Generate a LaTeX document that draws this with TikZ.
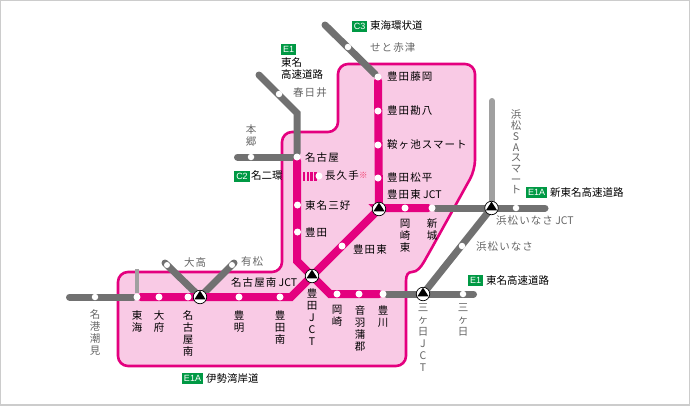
\documentclass[tikz,border=0pt]{standalone}
\usepackage{fontspec}
\usetikzlibrary{calc,backgrounds}
\setmainfont[LetterSpace=10]{Noto Sans CJK JP}
\newfontfamily\plainjp{Noto Sans CJK JP}
\newfontfamily\lat{Liberation Sans}
\newcommand{\jctname}{{\plainjp\ JCT}}
\definecolor{magenta2}{HTML}{E4007F}
\definecolor{pinkbg}{HTML}{F9CAE5}
\definecolor{gray1}{HTML}{717171}
\definecolor{gray2}{HTML}{A0A0A0}
\definecolor{gray3}{HTML}{666666}
\definecolor{green1}{HTML}{009944}
\definecolor{redm}{HTML}{F03060}
\tikzset{
  area/.style={draw=magenta2,fill=pinkbg,line width=2.6pt,rounded corners=10pt},
  pk/.style={draw=magenta2,line width=8pt,line cap=round,line join=miter},
  gy/.style={draw=gray1,line width=7pt,line cap=round},
  lg/.style={draw=gray2,line width=6pt,line cap=round},
  st/.style={circle,fill=white,draw=none,minimum size=7pt,inner sep=0pt},
  stg/.style={st,minimum size=6.5pt},
  jct/.style={circle,fill=white,draw=black,line width=0.7pt,minimum size=13.5pt,inner sep=0pt},
  lb/.style={font=\fontsize{10.5pt}{12pt}\selectfont,text=black,inner sep=0pt,align=center},
  road/.style={font=\plainjp\fontsize{10.5pt}{12.6pt}\selectfont,text=black,inner sep=0pt,align=left},
  lg2/.style={lb,text=gray3},
  sh/.style={fill=green1,text=white,font=\lat\fontsize{9pt}{10pt}\selectfont,inner sep=0pt,minimum height=11pt},
}
\begin{document}
\begin{tikzpicture}[x=1pt,y=-1pt]
\useasboundingbox (0,0) rectangle (690,405);
% nodes
\node[st] (fuji) at (378,77) {};
\node[st] (kanp) at (378,111) {};
\node[st] (anj) at (378,145) {};
\node[st] (matsu) at (378,178) {};
\coordinate (hj) at (379,209);
\node[st] (okh) at (405,208) {};
\node[st] (shin) at (432,208) {};
\coordinate (tj) at (312,276);
\node[st] (hig) at (342,246) {};
\node[st] (nag) at (297,157) {};
\node[st] (nagk) at (319,176) {};
\node[st] (sanyo) at (297.5,205) {};
\node[st] (toyo) at (297.5,232) {};
\coordinate (pb) at (297,261);
\node[st] (tokai) at (137,297) {};
\node[st] (obu) at (159,297) {};
\node[st] (nan) at (188,297) {};
\coordinate (oj) at (200,297);
\node[st] (ake) at (239,297) {};
\node[st] (tom) at (280,297) {};
\coordinate (pc) at (291,297);
\coordinate (pd) at (330,294);
\node[st] (oka) at (337,294) {};
\node[st] (oto) at (359,294) {};
\node[st] (tyk) at (383,294) {};
\coordinate (mj) at (423,294);
\coordinate (ij) at (491.5,208);
\coordinate (c3) at (325,25);
\coordinate (e1a) at (259,75);
\coordinate (e1b) at (297,113);
\coordinate (hon) at (237.5,157);
\coordinate (mei) at (69.5,297);
\coordinate (oe) at (165,263);
\coordinate (ae) at (234,263);
\coordinate (le) at (473.5,294);
\coordinate (re) at (545,208);
\coordinate (hm) at (492,101);
\coordinate (te) at (137,269);
\begin{scope}[on background layer]
\fill[white] (0,0) rectangle (690,405);
\draw[gray!40,line width=2pt] (0,0) rectangle (690,405);
\draw[area] (338,64) -- (475,64) -- (475,170) -- (429,253)
  [sharp corners] .. controls (421,267) and (417,272) .. (412,272)
  .. controls (408,272) and (406,275) .. (406,281)
  [rounded corners=10pt] -- (406,366) -- (118,366) -- (118,272) -- (282,272) -- (282,132) -- (338,132) -- cycle;
\draw[lg] (hm) -- (492,208);
\draw[lg,line width=4pt,line cap=butt] (te) -- (tokai);
\draw[gy] (c3) -- (fuji);
\draw[gy,line join=miter] (e1a) -- (e1b) -- (nag);
\draw[gy] (hon) -- (nag);
\draw[gy] (mei) -- (tokai);
\draw[gy,line join=miter] (oe) -- (oj) -- (ae);
\draw[gy] (shin) -- (re);
\draw[gy] (tyk) -- (le);
\draw[gy] (mj) -- (ij);
\draw[pk] (fuji) -- (hj);
\draw[pk] (hj) -- (378,208) -- (shin);
\draw[pk] (tokai) -- (pc) -- (hj);
\draw[pk] (nag) -- (pb) -- (tj) -- (pd) -- (tyk);
\foreach \x in {303,306.7,310.4,314.1}{\fill[magenta2] (\x,172) rectangle +(2.4,9);}
\end{scope}
% grey-line stations
\node[stg] (g1) at (348,47) {};
\node[stg] (g2) at (279,94) {};
\node[stg] (g3) at (251,157) {};
\node[stg] (g4) at (95,297) {};
\node[stg] (g5) at (463,294) {};
\node[stg] (g6) at (462,246) {};
\node[stg] (g7) at (516,208) {};
\node[st,minimum size=6pt] (g8) at (167,265) {};
\node[st,minimum size=6pt] (g9) at (232,265) {};
% junctions
\foreach \n/\c in {j1/hj,j2/tj,j3/oj,j4/mj,j5/ij}{
  \node[jct] (\n) at (\c) {};
  \fill[black] ($(\c)+(-5.6,2.4)$) -- ($(\c)+(5.6,2.4)$) -- ($(\c)+(0,-6.4)$) -- cycle;
}
% labels dark
\node[lb,anchor=west] (l1) at (387,77) {豊田藤岡};
\node[lb,anchor=west] (l2) at (387,111) {豊田勘八};
\node[lb,anchor=west] (l3) at (387,145) {鞍ヶ池スマート};
\node[lb,anchor=west] (l4) at (387,178) {豊田松平};
\node[lb,anchor=west] (l5) at (387,194) {豊田東\jctname};
\node[lb,anchor=west] (l6) at (305,157) {名古屋};
\node[lb,anchor=west] (l7) at (325,176) {長久手};
\node[anchor=west,inner sep=0pt,text=redm,font=\plainjp\fontsize{8.5pt}{9pt}\selectfont] (l7b) at (359,175) {※};
\node[lb,anchor=west] (l8) at (305,205) {東名三好};
\node[lb,anchor=west] (l9) at (305,232) {豊田};
\node[lb,anchor=west] (l10) at (353,249) {豊田東};
\node[lb,anchor=north] (l11) at (405,219) {岡\\崎\\東};
\node[lb,anchor=north] (l12) at (432,219) {新\\城};
\node[lb,anchor=north] (l13) at (137,310) {東\\海};
\node[lb,anchor=north] (l14) at (159,310) {大\\府};
\node[lb,anchor=north] (l15) at (188,310) {名\\古\\屋\\南};
\node[lb,anchor=north] (l16) at (239,310) {豊\\明};
\node[lb,anchor=north] (l17) at (280,310) {豊\\田\\南};
\node[lb,anchor=north] (l18) at (312,288) {豊\\田\\J\\C\\T};
\node[lb,anchor=north] (l19) at (337,305) {岡\\崎};
\node[lb,anchor=north] (l20) at (360,305) {音\\羽\\蒲\\郡};
\node[lb,anchor=north] (l21) at (383,305) {豊\\川};
\node[lb,anchor=west] (l22) at (231,282) {名古屋南\jctname};
% labels grey
\node[lg2,anchor=west] (m1) at (370,48) {せと赤津};
\node[lg2,anchor=west] (m2) at (293,93) {春日井};
\node[lg2,anchor=north] (m3) at (251,124) {本\\郷};
\node[lg2,anchor=north] (m4) at (95,309) {名\\港\\潮\\見};
\node[lg2,anchor=west] (m5) at (184,262) {大高};
\node[lg2,anchor=west] (m6) at (241,262) {有松};
\node[lg2,anchor=north] (m7) at (423,303) {三\\ヶ\\日\\J\\C\\T};
\node[lg2,anchor=north] (m8) at (463,303) {三\\ヶ\\日};
\node[lg2,anchor=west] (m9) at (476,247) {浜松いなさ};
\node[lg2,anchor=west] (m10) at (496,221) {浜松いなさ\jctname};
\node[lg2,anchor=north,font=\fontsize{10.5pt}{10.7pt}\selectfont] (m11) at (516,110) {浜\\松\\S\\A\\ス\\マ\\ー\\ト};
% shields
\node[sh,minimum width=15pt] (s1) at (359.5,26.5) {C3};
\node[road,anchor=west] (t1) at (370,26) {東海環状道};
\node[sh,minimum width=15pt] (s2) at (288.5,49.5) {E1};
\node[road,anchor=north west] (t2) at (281,57) {東名\\高速道路};
\node[sh,minimum width=16pt] (s3) at (242,176.5) {C2};
\node[road,anchor=west] (t3) at (251,175) {名二環};
\node[sh,minimum width=21pt] (s4) at (192.5,378.5) {E1A};
\node[road,anchor=west] (t4) at (206,379) {伊勢湾岸道};
\node[sh,minimum width=21pt] (s5) at (536.5,192.5) {E1A};
\node[road,anchor=west] (t5) at (550,193) {新東名高速道路};
\node[sh,minimum width=15pt] (s6) at (475.5,280.5) {E1};
\node[road,anchor=west] (t6) at (486,280) {東名高速道路};
\end{tikzpicture}
\end{document}
